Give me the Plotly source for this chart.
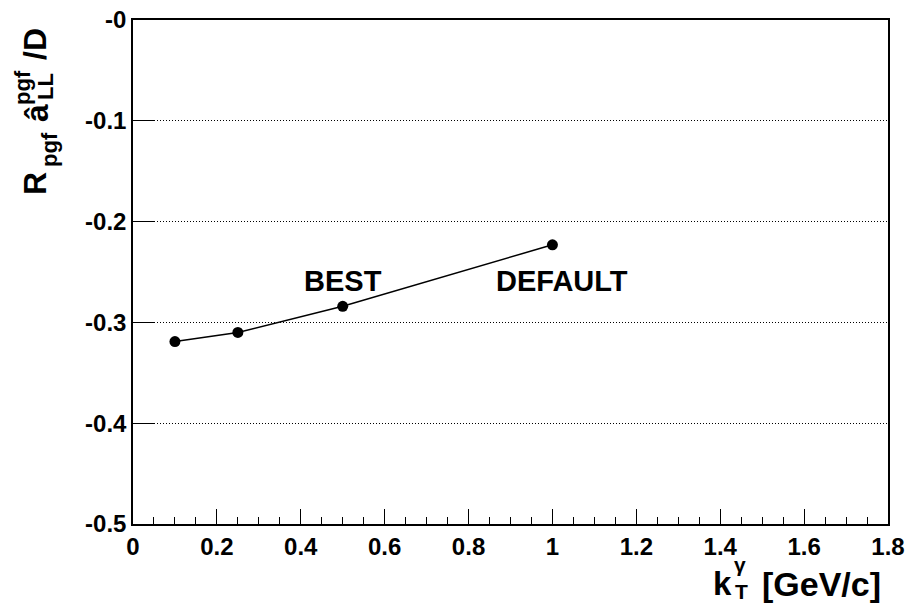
import plotly.graph_objects as go

# ---- data ----
kt_values = [0.1, 0.25, 0.5, 1.0]
ratio_values = [-0.319, -0.310, -0.284, -0.223]
label_texts = ["BEST", "DEFAULT"]
label_x = [0.5, 1.022]
label_y = [-0.259, -0.259]
y_tickvals = [0, -0.1, -0.2, -0.3, -0.4, -0.5]
y_ticktext = ["-0", "-0.1", "-0.2", "-0.3", "-0.4", "-0.5"]

FONT = "Liberation Sans, Arial, sans-serif"
W, H = 906, 608
L, R, T, B = 133, 888, 20, 524  # plot area in page pixels

def pxx(x):
    return (x - L) / (R - L)

def pxy(y):
    return (B - y) / (B - T)

fig = go.Figure()
fig.add_trace(go.Scatter(
    x=kt_values, y=ratio_values, mode="lines+markers",
    line=dict(color="black", width=1.5),
    marker=dict(color="black", size=11),
    showlegend=False, hoverinfo="skip",
))

ann = []
for t, x, y in zip(label_texts, label_x, label_y):
    ann.append(dict(x=x, y=y, xref="x", yref="y", text=t, showarrow=False,
                    font=dict(family=FONT, size=29, color="black", weight="bold"),
                    xanchor="center", yanchor="middle"))

def piece(text, cx, cy, size, angle=0):
    return dict(x=pxx(cx), y=pxy(cy), xref="paper", yref="paper", text=text,
                showarrow=False, textangle=angle,
                font=dict(family=FONT, size=size, color="black", weight="bold"),
                xanchor="center", yanchor="middle")

# x-axis title: k with stacked gamma (sup) / T (sub), then [GeV/c]
ann.append(piece("k", 722, 583, 33))
ann.append(piece("γ", 740, 564, 21))
ann.append(piece("T", 741, 591, 21))
ann.append(piece("[GeV/c]", 821, 584, 34))

# y-axis title (rotated): R_pgf â^pgf_LL /D
ann.append(piece("R", 35, 184, 32, -90))
ann.append(piece("pgf", 49, 150, 22, -90))
ann.append(piece("â", 37, 113, 32, -90))
ann.append(piece("pgf", 23, 88, 22, -90))
ann.append(piece("LL", 46, 87, 22, -90))
ann.append(piece("/D", 35, 44, 32, -90))

fig.update_layout(
    width=W, height=H,
    margin=dict(l=L, r=W - R, t=T, b=H - B, pad=0),
    paper_bgcolor="white", plot_bgcolor="white",
    annotations=ann,
    xaxis=dict(
        range=[0, 1.8], dtick=0.2, tick0=0, automargin=False,
        ticklabeloverflow="allow",
        ticks="inside", ticklen=15, tickwidth=1, tickcolor="black",
        showline=True, linecolor="black", linewidth=1.5, mirror=True,
        showgrid=False, zeroline=False,
        tickfont=dict(family=FONT, size=24, color="black", weight="bold"),
        minor=dict(dtick=0.05, ticks="inside", ticklen=7, tickwidth=1,
                   tickcolor="black", showgrid=False),
    ),
    yaxis=dict(
        range=[-0.5, 0], tickvals=y_tickvals, ticktext=y_ticktext, automargin=False,
        ticklabeloverflow="allow",
        ticks="inside", ticklen=22, tickwidth=1, tickcolor="black",
        showline=True, linecolor="black", linewidth=1.5, mirror=True,
        showgrid=True, gridcolor="black", gridwidth=1, griddash="1px,2px",
        zeroline=False,
        tickfont=dict(family=FONT, size=24, color="black", weight="bold"),
    ),
)

fig.write_html(
    "out.html",
    config={"displayModeBar": False},
    post_script="document.body.style.margin='0';document.body.style.overflow='hidden';",
)
